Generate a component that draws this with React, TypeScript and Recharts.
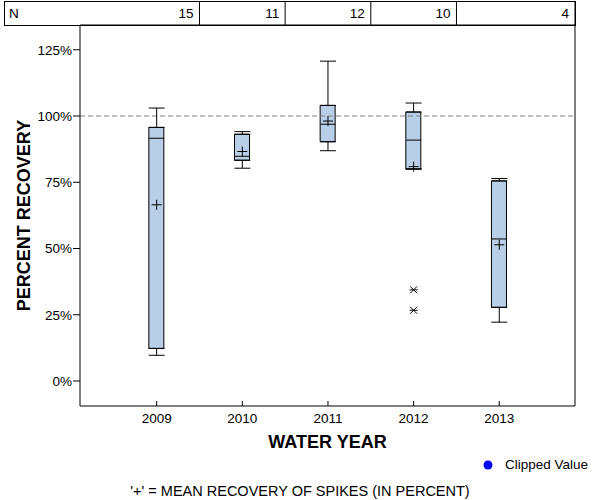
import {
  ComposedChart,
  Bar,
  Scatter,
  ErrorBar,
  XAxis,
  YAxis,
  ReferenceLine,
} from 'recharts'

const YEARS = [2009, 2010, 2011, 2012, 2013]
const N_COUNTS = [15, 11, 12, 10, 4]
const WHISKER_LOW = [9.7, 80.3, 86.9, 80.0, 22.2]
const Q1 = [12.3, 83.3, 90.3, 80.0, 27.8]
const MEDIAN = [91.6, 84.8, 96.9, 90.9, 53.6]
const Q3 = [95.7, 93.1, 104.0, 101.5, 75.5]
const WHISKER_HIGH = [103.0, 94.1, 120.7, 104.9, 76.4]
const MEAN = [66.5, 86.6, 98.1, 80.9, 51.4]
const OUTLIER_YEARS = [2012, 2012]
const OUTLIER_VALUES = [34.4, 26.7]
const Y_TICKS = [0, 25, 50, 75, 100, 125]

const X_MIN = 2008.105
const X_MAX = 2013.884
const Y_MIN = -9.43
const Y_MAX = 134.34

const FONT = '"Liberation Sans", Arial, sans-serif'
const BOX_FILL = '#b9cfe8'

const rows = YEARS.map((year, i) => ({
  year,
  box: [Q1[i], Q3[i]],
  median: MEDIAN[i],
  mean: MEAN[i],
  q1: Q1[i],
  q3: Q3[i],
  lowErr: [Q1[i] - WHISKER_LOW[i], 0],
  highErr: [0, WHISKER_HIGH[i] - Q3[i]],
}))

const outliers = OUTLIER_YEARS.map((year, i) => ({ year, value: OUTLIER_VALUES[i] }))

// dividers between the N cells sit halfway between the years, last one on the frame
const TABLE_TICKS = [...YEARS.slice(0, -1).map((y) => y + 0.5), X_MAX]

const Nothing = () => <g />

const MedianLine = (p: any) => (
  <line x1={p.cx - 7.5} x2={p.cx + 7.5} y1={p.cy} y2={p.cy} stroke="#000" strokeWidth={1} />
)

const MeanCross = (p: any) => (
  <g stroke="#000" strokeWidth={1}>
    <line x1={p.cx - 5} x2={p.cx + 5} y1={p.cy} y2={p.cy} />
    <line x1={p.cx} x2={p.cx} y1={p.cy - 5} y2={p.cy + 5} />
  </g>
)

const Asterisk = (p: any) => (
  <g stroke="#000" strokeWidth={1}>
    <line x1={p.cx - 4} x2={p.cx + 4} y1={p.cy} y2={p.cy} />
    <line x1={p.cx - 3.5} x2={p.cx + 3.5} y1={p.cy - 3.5} y2={p.cy + 3.5} />
    <line x1={p.cx - 3.5} x2={p.cx + 3.5} y1={p.cy + 3.5} y2={p.cy - 3.5} />
  </g>
)

const NTick = (p: any) => (
  <text
    x={p.x - 6}
    y={18}
    textAnchor="end"
    fontSize={13.5}
    fontFamily={FONT}
    fill="#000"
  >
    {N_COUNTS[p.index]}
  </text>
)

export default function App() {
  return (
    <div style={{ position: 'absolute', left: 0, top: 0, width: 600, height: 500, fontFamily: FONT }}>
      <div
        style={{
          position: 'absolute',
          left: 4,
          top: 1,
          width: 572,
          height: 25,
          boxSizing: 'border-box',
          border: '1px solid #000',
          fontSize: 13.5,
          lineHeight: '23px',
          paddingLeft: 4,
        }}
      >
        N
      </div>
      <div style={{ position: 'absolute', left: 0, top: 0 }}>
        <ComposedChart
          width={600}
          height={500}
          data={rows}
          margin={{ top: 1, right: 25, bottom: 0, left: 0 }}
        >
          <XAxis
            xAxisId="table"
            dataKey="year"
            orientation="top"
            type="number"
            domain={[X_MIN, X_MAX]}
            allowDataOverflow
            ticks={TABLE_TICKS}
            interval={0}
            height={24}
            tickSize={24}
            tickMargin={0}
            tickLine={{ stroke: '#000' }}
            axisLine={{ stroke: '#000' }}
            tick={<NTick />}
          />
          <XAxis
            dataKey="year"
            type="number"
            domain={[X_MIN, X_MAX]}
            allowDataOverflow
            ticks={YEARS}
            interval={0}
            height={94}
            tickSize={-5}
            tickMargin={12}
            tickLine={{ stroke: '#000' }}
            axisLine={{ stroke: '#000' }}
            tick={{ fill: '#000', fontSize: 13.5, fontFamily: FONT }}
            label={{
              value: 'WATER YEAR',
              position: 'insideTop',
              offset: 29,
              fill: '#000',
              fontSize: 18,
              fontWeight: 'bold',
              fontFamily: FONT,
            }}
          />
          <YAxis
            type="number"
            domain={[Y_MIN, Y_MAX]}
            allowDataOverflow
            ticks={Y_TICKS}
            interval={0}
            width={80}
            tickSize={7}
            tickMargin={1}
            tickLine={{ stroke: '#000' }}
            axisLine={{ stroke: '#000' }}
            tick={{ fill: '#000', fontSize: 13.5, fontFamily: FONT }}
            tickFormatter={(v: number) => `${v}%`}
            label={{
              value: 'PERCENT RECOVERY',
              angle: -90,
              position: 'insideLeft',
              offset: 24,
              style: { textAnchor: 'middle' },
              fill: '#000',
              fontSize: 18,
              fontWeight: 'bold',
              fontFamily: FONT,
            }}
          />
          <ReferenceLine y={100} stroke="#808080" strokeDasharray="5 3" />
          <ReferenceLine x={X_MAX} stroke="#000" />
          <Scatter xAxisId="table" dataKey="q1" shape={Nothing} isAnimationActive={false} />
          <Scatter dataKey="q3" shape={Nothing} isAnimationActive={false}>
            <ErrorBar dataKey="highErr" direction="y" width={8} stroke="#000" strokeWidth={1} />
          </Scatter>
          <Scatter dataKey="q1" shape={Nothing} isAnimationActive={false}>
            <ErrorBar dataKey="lowErr" direction="y" width={8} stroke="#000" strokeWidth={1} />
          </Scatter>
          <Bar dataKey="box" barSize={15} fill={BOX_FILL} stroke="#000" strokeWidth={1} isAnimationActive={false} />
          <Scatter dataKey="median" shape={MedianLine} isAnimationActive={false} />
          <Scatter dataKey="mean" shape={MeanCross} isAnimationActive={false} />
          <Scatter data={outliers} dataKey="value" shape={Asterisk} isAnimationActive={false} />
        </ComposedChart>
      </div>
      <svg style={{ position: 'absolute', left: 480, top: 458 }} width={16} height={16}>
        <circle cx={8} cy={7} r={4.5} fill="#0000ff" />
      </svg>
      <div style={{ position: 'absolute', left: 505, top: 457, fontSize: 13.5, color: '#000' }}>Clipped Value</div>
      <div
        style={{
          position: 'absolute',
          left: 0,
          width: 600,
          top: 483,
          textAlign: 'center',
          fontSize: 14.5,
          color: '#000',
        }}
      >
        '+' = MEAN RECOVERY OF SPIKES (IN PERCENT)
      </div>
    </div>
  )
}
